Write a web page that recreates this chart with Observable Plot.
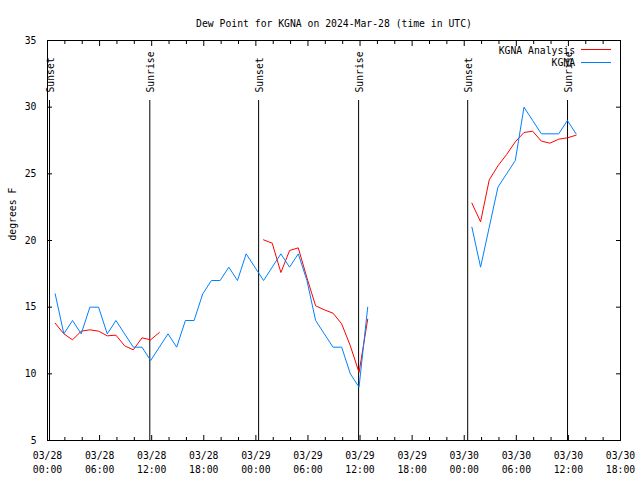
<!DOCTYPE html>
<html><head><meta charset="utf-8">
<script src="https://cdn.jsdelivr.net/npm/d3@7"></script>
<script src="https://cdn.jsdelivr.net/npm/@observablehq/plot@0.6"></script>
<style>
body{margin:0;background:#fff;}
#wrap{position:relative;width:640px;height:480px;font-family:"DejaVu Sans Mono",monospace;font-size:9.75px;color:#000;}
.leg{position:absolute;font-size:9.75px;line-height:10px;white-space:pre;}
.legline{position:absolute;height:1px;}
</style></head><body><div id="wrap"></div>
<script>
// observation / analysis times (UTC)
const times = [
 "2024-03-28T00:53Z","2024-03-28T01:53Z","2024-03-28T02:53Z","2024-03-28T03:53Z","2024-03-28T04:53Z","2024-03-28T05:53Z",
 "2024-03-28T06:53Z","2024-03-28T07:53Z","2024-03-28T08:53Z","2024-03-28T09:53Z","2024-03-28T10:53Z","2024-03-28T11:53Z",
 "2024-03-28T12:53Z","2024-03-28T13:53Z","2024-03-28T14:53Z","2024-03-28T15:53Z","2024-03-28T16:53Z","2024-03-28T17:53Z",
 "2024-03-28T18:53Z","2024-03-28T19:53Z","2024-03-28T20:53Z","2024-03-28T21:53Z","2024-03-28T22:53Z","2024-03-28T23:53Z",
 "2024-03-29T00:53Z","2024-03-29T01:53Z","2024-03-29T02:53Z","2024-03-29T03:53Z","2024-03-29T04:53Z","2024-03-29T05:53Z",
 "2024-03-29T06:53Z","2024-03-29T07:53Z","2024-03-29T08:53Z","2024-03-29T09:53Z","2024-03-29T10:53Z","2024-03-29T11:53Z",
 "2024-03-29T12:53Z","2024-03-29T13:53Z","2024-03-29T14:53Z","2024-03-29T15:53Z","2024-03-29T16:53Z","2024-03-29T17:53Z",
 "2024-03-29T18:53Z","2024-03-29T19:53Z","2024-03-29T20:53Z","2024-03-29T21:53Z","2024-03-29T22:53Z","2024-03-29T23:53Z",
 "2024-03-30T00:53Z","2024-03-30T01:53Z","2024-03-30T02:53Z","2024-03-30T03:53Z","2024-03-30T04:53Z","2024-03-30T05:53Z",
 "2024-03-30T06:53Z","2024-03-30T07:53Z","2024-03-30T08:53Z","2024-03-30T09:53Z","2024-03-30T10:53Z","2024-03-30T11:53Z",
 "2024-03-30T12:53Z"
];
// KGNA observed dew point (F)
const kgna = [
 16,13,14,13,15,15,13,14,13,12,12,11,
 12,13,12,14,14,16,17,17,18,17,19,18,
 17,18,19,18,19,17,14,13,12,12,10,9,
 15,null,null,null,null,null,null,null,null,null,null,null,
 21,18,21,24,25,26,30,29,28,28,28,29,
 28
];
// KGNA analysis dew point (F)
const analysis = [
 13.8,13.0,12.55,13.2,13.3,13.2,12.85,12.9,12.1,11.8,12.7,12.55,
 13.1,null,null,null,null,null,null,null,null,null,null,null,
 20.05,19.8,17.6,19.25,19.45,17.2,15.1,14.8,14.55,13.75,12.1,10.1,
 14.1,null,null,null,null,null,null,null,null,null,null,null,
 22.8,21.4,24.55,25.6,26.45,27.4,28.1,28.2,27.45,27.3,27.6,27.7,
 27.9
];
const sunLabels = ["Sunset","Sunrise","Sunset","Sunrise","Sunset","Sunrise"];
const sunTimes = ["2024-03-28T00:14Z","2024-03-28T11:47Z","2024-03-29T00:19Z","2024-03-29T11:50Z","2024-03-30T00:24Z","2024-03-30T11:54Z"];
const xTickTimes = ["2024-03-28T00:00Z","2024-03-28T06:00Z","2024-03-28T12:00Z","2024-03-28T18:00Z",
 "2024-03-29T00:00Z","2024-03-29T06:00Z","2024-03-29T12:00Z","2024-03-29T18:00Z",
 "2024-03-30T00:00Z","2024-03-30T06:00Z","2024-03-30T12:00Z","2024-03-30T18:00Z"];
const xTickLabels = ["03/28\n00:00","03/28\n06:00","03/28\n12:00","03/28\n18:00",
 "03/29\n00:00","03/29\n06:00","03/29\n12:00","03/29\n18:00",
 "03/30\n00:00","03/30\n06:00","03/30\n12:00","03/30\n18:00"];
const yTicks = [5,10,15,20,25,30,35];

const title = "Dew Point for KGNA on 2024-Mar-28 (time in UTC)";
const yLabel = "degrees F";
const redColor = "#ff0000", blueColor = "#0080ff";

const T = times.map(s => new Date(s));
const rows = T.map((t, i) => ({t, obs: kgna[i], ana: analysis[i]}));
const sun = sunTimes.map((s, i) => ({t: new Date(s), label: sunLabels[i]}));
const xMajor = xTickTimes.map(s => new Date(s));
const x0 = xMajor[0], x1 = xMajor[xMajor.length - 1];
const xMinor = d3.utcHour.every(2).range(x0, new Date(+x1 + 1)).filter(d => d.getUTCHours() % 6 !== 0);
const labelOf = new Map(xMajor.map((d, i) => [+d, xTickLabels[i]]));

const chart = Plot.plot({
  width: 640, height: 480,
  marginLeft: 47, marginRight: 20, marginTop: 40, marginBottom: 40,
  style: {fontFamily: "DejaVu Sans Mono, monospace", fontSize: "9.75px", background: "white", color: "black", overflow: "visible"},
  x: {type: "utc", domain: [x0, x1]},
  y: {domain: [5, 35]},
  marks: [
    Plot.ruleX(sun, {x: "t", y1: 5, y2: 30.5, stroke: "black", strokeWidth: 1}),
    Plot.text(sun, {x: "t", y: 31.1, text: "label", rotate: -90, textAnchor: "start", lineAnchor: "middle", dx: 1, fill: "black"}),
    Plot.line(rows, {x: "t", y: "ana", stroke: redColor, strokeWidth: 1}),
    Plot.line(rows, {x: "t", y: "obs", stroke: blueColor, strokeWidth: 1}),
    Plot.frame({stroke: "black"}),
    // tick labels
    Plot.axisX(xMajor, {anchor: "bottom", tickSize: 0, tickPadding: 9, lineHeight: 1.4, tickFormat: d => labelOf.get(+d), label: null}),
    Plot.axisY(yTicks, {anchor: "left", tickSize: 0, tickPadding: 11, label: null}),
    // inward tick marks
    Plot.axisX(xMajor, {anchor: "bottom", tickSize: -5, tickFormat: () => "", label: null}),
    Plot.axisX(xMajor, {anchor: "top", tickSize: -5, tickFormat: () => "", label: null}),
    Plot.axisX(xMinor, {anchor: "bottom", tickSize: -3, tickFormat: () => "", label: null}),
    Plot.axisX(xMinor, {anchor: "top", tickSize: -3, tickFormat: () => "", label: null}),
    Plot.axisY(yTicks, {anchor: "left", tickSize: -5, tickFormat: () => "", label: null}),
    Plot.axisY(yTicks, {anchor: "right", tickSize: -5, tickFormat: () => "", label: null}),
    Plot.text([title], {frameAnchor: "top", dy: -20, fill: "black"}),
    Plot.text([yLabel], {frameAnchor: "left", dx: -35, rotate: -90, fill: "black"})
  ]
});
const wrap = document.getElementById("wrap");
wrap.appendChild(chart);

// legend (top right, inside plot)
const legend = [
  {name: "KGNA Analysis", color: redColor, y: 49, ty: 50.5},
  {name: "KGNA", color: blueColor, y: 62, ty: 62.5}
];
for (const l of legend) {
  const t = document.createElement("div");
  t.className = "leg";
  t.textContent = l.name;
  t.style.right = (640 - 575) + "px";
  t.style.top = (l.ty - 5) + "px";
  wrap.appendChild(t);
  const ln = document.createElement("div");
  ln.className = "legline";
  ln.style.left = "581px"; ln.style.width = "30px";
  ln.style.top = l.y + "px";
  ln.style.background = l.color;
  wrap.appendChild(ln);
}
</script></body></html>
